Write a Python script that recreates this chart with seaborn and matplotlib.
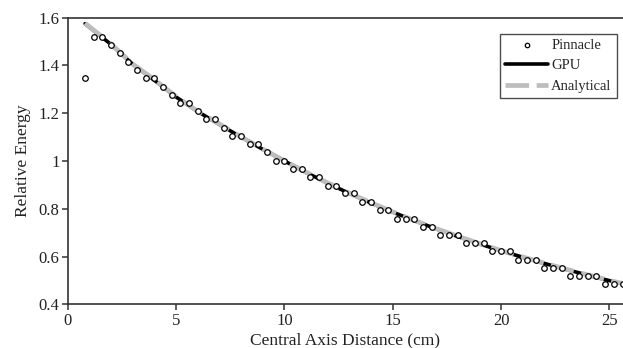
import numpy as np
import pandas as pd
import matplotlib
matplotlib.use("Agg")
import matplotlib.pyplot as plt
import seaborn as sns

# Pinnacle samples, every 0.4 cm from 0.8 to 25.6 cm
pinnacle_x = [round(0.8 + 0.4 * i, 1) for i in range(63)]
pinnacle_y = [
    1.346, 1.519, 1.519, 1.484, 1.451, 1.415, 1.380, 1.346, 1.346, 1.311,
    1.278, 1.243, 1.243, 1.210, 1.175, 1.175, 1.140, 1.105, 1.105, 1.072,
    1.072, 1.037, 1.002, 1.002, 0.968, 0.968, 0.933, 0.933, 0.897, 0.897,
    0.864, 0.864, 0.828, 0.828, 0.794, 0.794, 0.759, 0.759, 0.759, 0.724,
    0.724, 0.690, 0.690, 0.690, 0.656, 0.656, 0.656, 0.623, 0.623, 0.623,
    0.587, 0.587, 0.587, 0.554, 0.554, 0.554, 0.519, 0.519, 0.519, 0.519,
    0.485, 0.485, 0.485,
]

curve_x = [0.8, 2, 3, 4, 5, 6, 7, 8, 9, 10, 11, 12, 13, 14, 15, 16, 17,
           18, 19, 20, 21, 22, 23, 24, 25, 25.6]
gpu_y = [1.575, 1.488, 1.405, 1.338, 1.268, 1.207, 1.153, 1.100, 1.049, 1.000,
         0.952, 0.907, 0.864, 0.824, 0.786, 0.750, 0.716, 0.684, 0.653, 0.624,
         0.597, 0.571, 0.546, 0.522, 0.499, 0.486]
analytical_y = [1.577, 1.490, 1.406, 1.340, 1.270, 1.208, 1.155, 1.101, 1.050,
                1.001, 0.953, 0.908, 0.865, 0.825, 0.787, 0.751, 0.717, 0.685,
                0.654, 0.625, 0.598, 0.572, 0.547, 0.523, 0.500, 0.487]

pin = pd.DataFrame({"x": pinnacle_x, "y": pinnacle_y})
gpu = pd.DataFrame({"x": curve_x, "y": gpu_y})
ana = pd.DataFrame({"x": curve_x, "y": analytical_y})

sns.set_theme(style="ticks")
plt.rcParams["font.family"] = ["Liberation Serif", "DejaVu Serif"]
plt.rcParams["axes.edgecolor"] = "#333333"

fig = plt.figure(figsize=(6.23, 3.48), dpi=100)
ax = fig.add_axes([0.1087, 0.1256, 0.8905, 0.8235])

sns.lineplot(data=gpu, x="x", y="y", ax=ax, color="black", lw=2.6,
             label="GPU", zorder=2)
sns.lineplot(data=ana, x="x", y="y", ax=ax, color="#bdbdbd", lw=3.4,
             label="Analytical", zorder=3, dashes=False)
ax.lines[-1].set_dashes((5.0, 1.6))
sns.scatterplot(data=pin, x="x", y="y", ax=ax, marker="o", s=16,
                facecolor="white", edgecolor="black", linewidth=0.9,
                label="Pinnacle", zorder=4)

ax.set_xlim(0, 25.6)
ax.set_ylim(0.4, 1.6)
ax.set_xticks([0, 5, 10, 15, 20, 25])
ax.set_yticks([0.4, 0.6, 0.8, 1.0, 1.2, 1.4, 1.6])
ax.set_yticklabels(["0.4", "0.6", "0.8", "1", "1.2", "1.4", "1.6"])
ax.tick_params(labelsize=12, length=4, width=1.1, color="#333333",
               colors="#222222", pad=2)
ax.set_xlabel("Central Axis Distance (cm)", fontsize=12.5, color="#222222",
              labelpad=3)
ax.set_ylabel("Relative Energy", fontsize=12.5, color="#222222", labelpad=5)
ax.spines["right"].set_visible(False)
for s in ["left", "bottom", "top"]:
    ax.spines[s].set_linewidth(1.2)

h, l = ax.get_legend_handles_labels()
order = [l.index("Pinnacle"), l.index("GPU"), l.index("Analytical")]
leg = ax.legend([h[i] for i in order], [l[i] for i in order],
                loc="upper right", bbox_to_anchor=(0.995, 0.955),
                fontsize=10.5, frameon=True, fancybox=False, handlelength=2.9,
                handletextpad=0.25, borderpad=0.35, labelspacing=0.5,
                borderaxespad=0.2, markerscale=0.8)
leg.get_frame().set_edgecolor("#222222")
leg.get_frame().set_linewidth(1.0)

fig.savefig("out.png", dpi=100)
